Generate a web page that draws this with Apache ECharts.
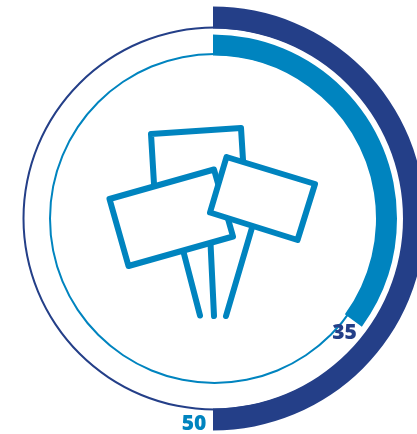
<!DOCTYPE html>
<html>
<head>
<meta charset="utf-8">
<style>html,body{margin:0;padding:0;background:#fff}#chart{width:417px;height:434px}</style>
<script src="https://cdn.jsdelivr.net/npm/echarts@6/dist/echarts.min.js"></script>
</head>
<body>
<div id="chart"></div>
<script>
// Percentages shown by the two rings
const outerValue = 50;
const innerValue = 35;
const total = 100;
const outerLabel = String(outerValue);
const innerLabel = String(innerValue);

const NAVY = '#243f88';
const BLUE = '#0084bf';
const CENTER = [213, 218.5];
const TRACK_CENTER = [214.5, 218.5];

// Filled arc for a value, the remainder left empty
function ring(value, radius, color) {
  return {
    type: 'pie', center: CENTER, radius: radius, startAngle: 90, clockwise: true,
    silent: true, animation: false, label: {show: false}, labelLine: {show: false},
    data: [
      {value: value, itemStyle: {color: color}},
      {value: total - value, itemStyle: {color: 'rgba(0,0,0,0)'}}
    ]
  };
}
// Thin full circle under each arc
function track(radius, color) {
  return {
    type: 'pie', center: TRACK_CENTER, radius: radius, silent: true, animation: false,
    label: {show: false}, labelLine: {show: false},
    data: [{value: total, itemStyle: {color: color}}]
  };
}

// Strokes of the placard icon
function stroke(points, closed, z) {
  return {
    type: closed ? 'polygon' : 'polyline', z: z, silent: true,
    shape: {points: points},
    style: {
      fill: closed ? '#fff' : null, stroke: BLUE, lineWidth: 6,
      lineCap: 'round', lineJoin: 'round'
    }
  };
}
const backSign = [[154, 184], [151, 134], [241, 128], [243, 160]];
const leftSign = [[109.5, 199], [214, 169.5], [233, 236.5], [128.5, 266]];
const rightSign = [[226.5, 157], [315, 184], [297.5, 240], [210, 212.5]];
const leftStake = [[183, 250], [200, 315.5]];
const midStake = [[210.5, 243], [214, 316]];
const rightStake = [[252.5, 226], [226, 316]];

const chart = echarts.init(document.getElementById('chart'), null, {renderer: 'canvas'});
chart.setOption({
  animation: false,
  series: [
    track([190, 192], NAVY),
    track([163.5, 165.5], BLUE),
    ring(outerValue, [190, 212], NAVY),
    ring(innerValue, [163, 184], BLUE)
  ],
  graphic: {elements: [
    stroke(backSign, false, 10),
    stroke(leftStake, false, 11),
    stroke(midStake, false, 11),
    stroke(rightStake, false, 11),
    stroke(leftSign, true, 12),
    stroke(rightSign, true, 13),
    {type: 'text', z: 20, x: 344.5, y: 333, silent: true, style: {
      text: innerLabel, fill: NAVY, font: '800 21px "Open Sans"', textAlign: 'center', textVerticalAlign: 'middle'}},
    {type: 'text', z: 20, x: 194, y: 424, silent: true, style: {
      text: outerLabel, fill: BLUE, font: '800 21px "Open Sans"', textAlign: 'center', textVerticalAlign: 'middle'}}
  ]}
});
</script>
</body>
</html>
